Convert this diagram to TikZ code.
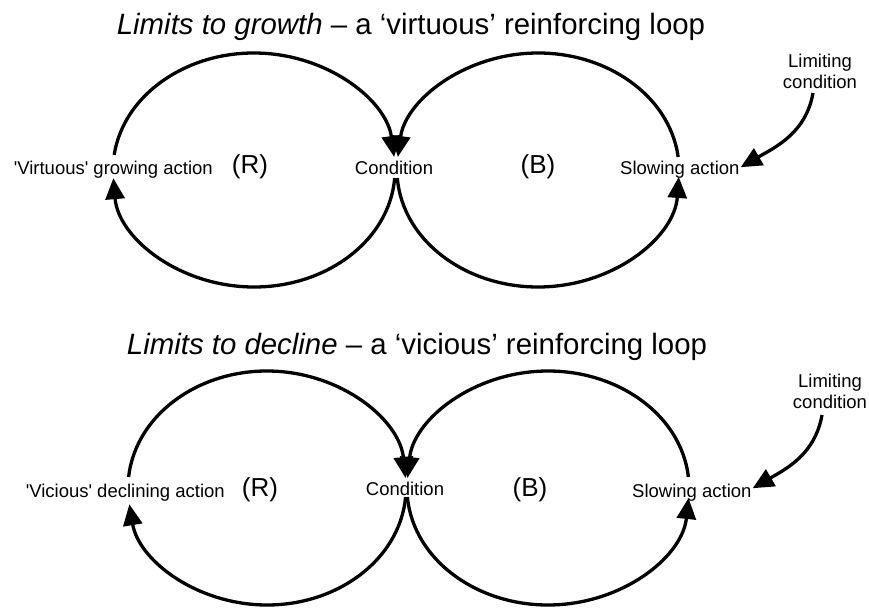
\documentclass[tikz,border=0pt]{standalone}
\usepackage{fontspec}
\setmainfont{Liberation Sans}
\usetikzlibrary{arrows.meta,calc}

\tikzset{
  arr/.style={line width=3.3pt, -{Triangle[length=21pt,width=19pt]}},
  lbl/.style={font=\fontsize{18.5}{21}\selectfont, inner sep=0pt},
  ttl/.style={font=\fontsize{29.4}{34}\selectfont, inner sep=0pt},
  sign/.style={font=\fontsize{26}{30}\selectfont, inner sep=0pt},
}

\begin{document}
\begin{tikzpicture}[x=1pt,y=1pt]
\useasboundingbox (0,0) rectangle (869,-609);

% ---------- upper diagram: limits to growth ----------
\node[ttl, anchor=base] (t1) at (411,-35)
  {\textit{Limits to growth} -- a `virtuous' reinforcing loop};

\coordinate (RL1) at (254,-170);
\coordinate (BL1) at (538,-170);

\node[lbl, anchor=base east] (grow1) at (213,-175)
  {\textquotesingle Virtuous\textquotesingle\ growing action};
\node[sign, anchor=base] (R1) at (250,-174) {(R)};
\node[lbl, anchor=base] (cond1) at (394,-175) {Condition};
\node[sign, anchor=base] (B1) at (538,-174) {(B)};
\node[lbl, anchor=base west] (slow1) at (620,-175) {Slowing action};
\node[lbl, anchor=north, align=center] (lim1) at (820,-54) {Limiting\\condition};

% reinforcing loop
\draw[arr] ([shift={(172.6:141 and 117)}]RL1)
  arc[start angle=172.6, end angle=6.4, x radius=141pt, y radius=117pt];
\draw[arr] ([shift={(-3.9:141 and 117)}]RL1)
  arc[start angle=-3.9, end angle=-176, x radius=141pt, y radius=117pt];
% balancing loop
\draw[arr] ([shift={(6.4:141 and 117)}]BL1)
  arc[start angle=6.4, end angle=173.6, x radius=141pt, y radius=117pt];
\draw[arr] ([shift={(183.9:141 and 117)}]BL1)
  arc[start angle=183.9, end angle=356.6, x radius=141pt, y radius=117pt];
% limiting condition
\draw[arr] ([xshift=-7pt,yshift=-4pt]lim1.south)
  to[out=-100,in=30] ([xshift=1pt,yshift=3pt]slow1.east);

% ---------- lower diagram: limits to decline ----------
\node[ttl, anchor=base] (t2) at (417,-354)
  {\textit{Limits to decline} -- a `vicious' reinforcing loop};

\coordinate (RL2) at (267,-488);
\coordinate (BL2) at (548,-488);

\node[lbl, anchor=base east] (grow2) at (225,-497)
  {\textquotesingle Vicious\textquotesingle\ declining action};
\node[sign, anchor=base] (R2) at (260,-496) {(R)};
\node[lbl, anchor=base] (cond2) at (405,-495) {Condition};
\node[sign, anchor=base] (B2) at (530,-496) {(B)};
\node[lbl, anchor=base west] (slow2) at (632,-497) {Slowing action};
\node[lbl, anchor=north, align=center] (lim2) at (830,-374) {Limiting\\condition};

% reinforcing loop
\draw[arr] ([shift={(174.6:139 and 117)}]RL2)
  arc[start angle=174.6, end angle=4.9, x radius=139pt, y radius=117pt];
\draw[arr] ([shift={(-4.4:139 and 117)}]RL2)
  arc[start angle=-4.4, end angle=-172, x radius=139pt, y radius=117pt];
% balancing loop
\draw[arr] ([shift={(5.4:141 and 117)}]BL2)
  arc[start angle=5.4, end angle=175.1, x radius=141pt, y radius=117pt];
\draw[arr] ([shift={(184.4:141 and 117)}]BL2)
  arc[start angle=184.4, end angle=355.1, x radius=141pt, y radius=117pt];
% limiting condition
\draw[arr] ([xshift=-8pt,yshift=-6pt]lim2.south)
  to[out=-100,in=30] ([xshift=1pt,yshift=4pt]slow2.east);
\end{tikzpicture}
\end{document}
